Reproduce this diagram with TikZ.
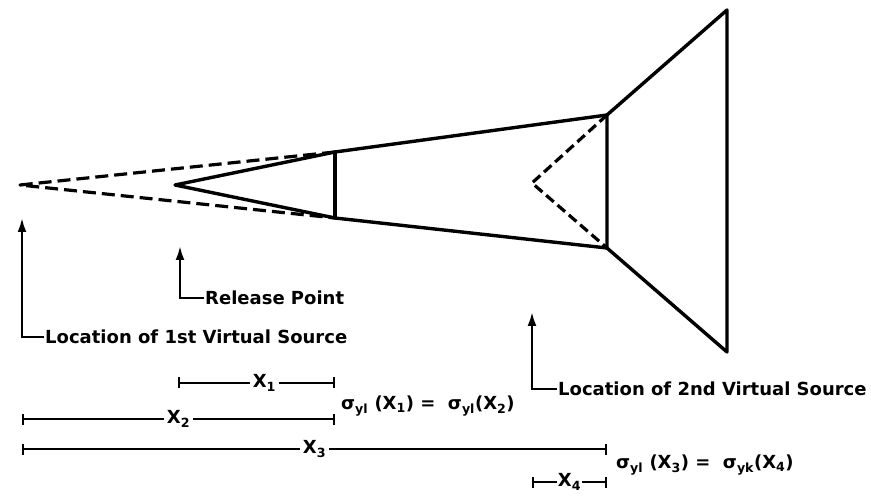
\documentclass[tikz,border=0pt]{standalone}
\usepackage{fontspec}
\setmainfont{DejaVu Sans}
\usetikzlibrary{arrows.meta}

\tikzset{
  plume/.style={line width=3.4pt, line join=round},
  virtual/.style={line width=3.2pt, line join=round, dash pattern=on 13pt off 6pt},
  pointer/.style={line width=2.4pt, -{Latex[length=14pt,width=9pt]}},
  span/.style={line width=2pt, {Bar[width=11pt]}-{Bar[width=11pt]}},
  tag/.style={font=\bfseries\fontsize{18}{21}\selectfont, inner sep=1pt},
  spanlabel/.style={tag, fill=white, inner sep=3pt}
}

\begin{document}
\begin{tikzpicture}[x=1pt, y=1pt]
        \useasboundingbox (0,0) rectangle (871,496);
        % plume outline
        \coordinate (src1) at (20,311);
        \coordinate (rel) at (175,311);
        \coordinate (a1) at (335,344);
        \coordinate (a2) at (335,278);
        \coordinate (src2) at (532,313);
        \coordinate (b1) at (607,381);
        \coordinate (b2) at (607,248);
        \coordinate (c1) at (727,486);
        \coordinate (c2) at (727,144);
        \draw[virtual] (a1) -- (src1) -- (a2);
        \draw[virtual, dash pattern=on 10pt off 5pt] (b1) -- (src2) -- (b2);
        \draw[plume] (a1) -- (rel) -- (a2);
        \draw[plume] (a1) -- (a2);
        \draw[plume] (a1) -- (b1) -- (b2) -- (a2);
        \draw[plume] (b1) -- (c1) -- (c2) -- (b2);
        % pointers to the sources
        \coordinate (tip1) at (22,278);
        \coordinate (tiprel) at (180,250);
        \coordinate (tip2) at (532,184);
        \node[tag, anchor=west] (lab1) at (44,159) {Location of 1st Virtual Source};
        \node[tag, anchor=west] (labrel) at (204,198) {Release Point};
        \node[tag, anchor=west] (lab2) at (557,107) {Location of 2nd Virtual Source};
        \draw[pointer] (lab1.west) -| (tip1);
        \draw[pointer] (labrel.west) -| (tiprel);
        \draw[pointer] (lab2.west) -| (tip2);
        % distances
        \coordinate (x1a) at (178,113);
        \coordinate (x1b) at (335,113);
        \coordinate (x2a) at (22,77);
        \coordinate (x2b) at (335,77);
        \coordinate (x3a) at (22,47);
        \coordinate (x3b) at (607,47);
        \coordinate (x4a) at (532,14);
        \coordinate (x4b) at (607,14);
        \draw[span] (x1a) -- node[spanlabel, pos=0.55] (x1) {X\textsubscript{1}} (x1b);
        \draw[span] (x2a) -- node[spanlabel] (x2) {X\textsubscript{2}} (x2b);
        \draw[span] (x3a) -- node[spanlabel] (x3) {X\textsubscript{3}} (x3b);
        \draw[span] (x4a) -- node[spanlabel, inner sep=1pt] (x4) {X\textsubscript{4}} (x4b);
        \node[tag, anchor=west] (eq1) at (340,90) {σ\textsubscript{yl} (X\textsubscript{1}) = \ σ\textsubscript{yl}(X\textsubscript{2})};
        \node[tag, anchor=west] (eq2) at (615,31) {σ\textsubscript{yl} (X\textsubscript{3}) = \ σ\textsubscript{yk}(X\textsubscript{4})};
      \end{tikzpicture}
\end{document}
